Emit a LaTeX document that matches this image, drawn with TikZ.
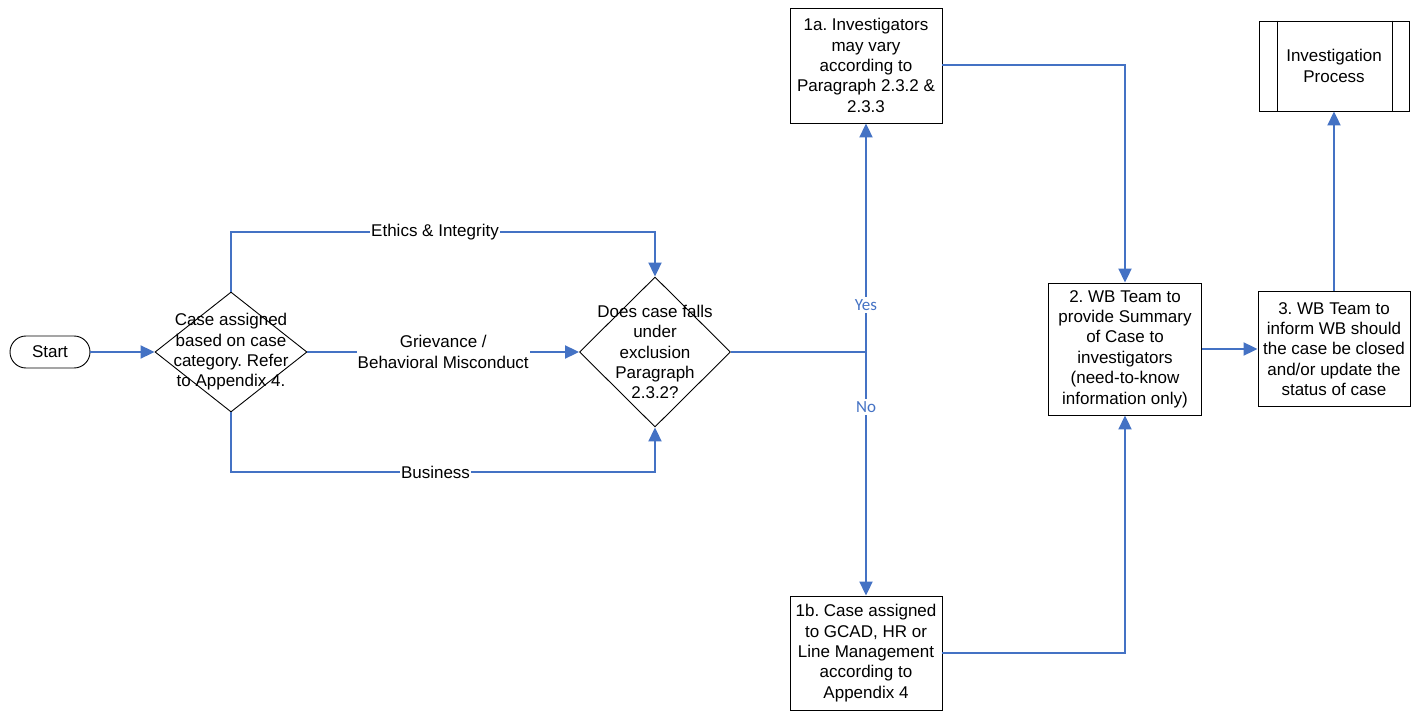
\documentclass[tikz,border=0pt]{standalone}
\usepackage{fontspec}
\setmainfont{Liberation Sans}
\newfontfamily\calfont{Carlito}
\usetikzlibrary{shapes.geometric,arrows.meta}
\definecolor{flowblue}{HTML}{4472C4}
\frenchspacing
\tikzset{
  txt/.style={font=\fontsize{17}{20.4}\selectfont\frenchspacing, align=center},
  procbox/.style={txt, draw=black, line width=0.9pt, rectangle, inner sep=0pt},
  decision/.style={draw=black, line width=0.9pt, diamond, inner sep=0pt},
  terminal/.style={txt, draw=black, line width=0.9pt, rounded corners=16pt, minimum width=80pt, minimum height=32pt, inner sep=0pt},
  conn/.style={draw=flowblue, line width=2pt},
  arr/.style={conn, -{Triangle[length=14pt,width=13pt]}},
  lbl/.style={txt, fill=white, inner sep=1pt},
  yn/.style={font=\calfont\fontsize{17}{20}\selectfont, text=flowblue, fill=white, inner sep=2pt},
}
\begin{document}
\begin{tikzpicture}[x=1pt,y=-1pt]
\useasboundingbox (0,0) rectangle (1411,711);

% nodes
\node[terminal] (start) at (50,352) {Start};
\node[decision, minimum width=152pt, minimum height=120pt,
  label={[txt]center:Case assigned\\based on case\\category. Refer\\to Appendix 4.}] (d1) at (231,352) {};
\node[decision, minimum width=151pt, minimum height=150pt,
  label={[txt]center:Does case falls\\under\\exclusion\\Paragraph\\2.3.2?}] (d2) at (655,352) {};
\node[procbox, minimum width=152pt, minimum height=115pt] (b1a) at (866,65.5)
  {1a. Investigators\\may vary\\according to\\Paragraph 2.3.2 \&\\2.3.3};
\node[procbox, minimum width=152pt, minimum height=114pt] (b1b) at (866,653)
  {1b. Case assigned\\to GCAD, HR or\\Line Management\\according to\\Appendix 4};
\node[procbox, minimum width=153pt, minimum height=132pt] (b2) at (1125,349)
  {2. WB Team to\\provide Summary\\of Case to\\investigators\\(need-to-know\\information only)};
\node[procbox, minimum width=152pt, minimum height=115pt] (b3) at (1334,349)
  {3. WB Team to\\inform WB should\\the case be closed\\and/or update the\\status of case};
\node[procbox, minimum width=150pt, minimum height=90pt] (ip) at (1334,66)
  {Investigation\\Process};
\draw[line width=0.9pt] ([xshift=19pt]ip.north west) -- ([xshift=19pt]ip.south west);
\draw[line width=0.9pt] ([xshift=-17pt]ip.north east) -- ([xshift=-17pt]ip.south east);

\coordinate (ethicsY) at (0,232);
\coordinate (busY) at (0,472);
\coordinate (junc) at (866,352);

% connectors
\draw[arr] (start) -- (d1.west);
\draw[arr] (d1.north) -- (d1.north |- ethicsY) -| (d2.north);
\node[lbl] (lethics) at (435,232) {Ethics \& Integrity};
\draw[arr] (d1.south) -- (d1.south |- busY) -| (d2.south);
\node[lbl] (lbus) at (435.5,472) {Business};
\draw[arr] (d1.east) -- node[lbl, midway] (lgriev) {Grievance /\\Behavioral Misconduct} (d2.west);
\draw[conn] (d2.east) -- (junc);
\draw[arr] (junc) -- (b1a.south);
\draw[arr] (junc) -- (b1b.north);
\node[yn] (lyes) at (866,305) {Yes};
\node[yn] (lno) at (866,407) {No};
\draw[arr] (b1a.east) -| (b2.north);
\draw[arr] (b1b.east) -| (b2.south);
\draw[arr] (b2.east) -- (b3.west);
\draw[arr] (b3.north) -- (ip.south);
\end{tikzpicture}
\end{document}
